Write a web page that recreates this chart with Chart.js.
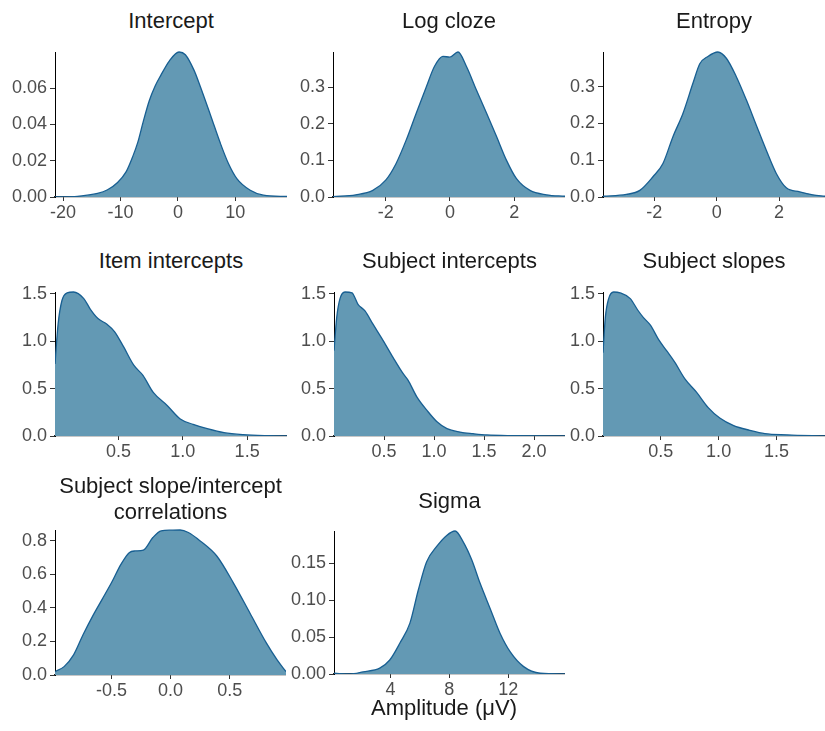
<!DOCTYPE html>
<html lang="en">
<head>
<meta charset="UTF-8">
<title>Posterior densities</title>
<script src="https://cdn.jsdelivr.net/npm/chart.js@4.4.1/dist/chart.umd.min.js"></script>
<style>
  body { margin: 0; background: #fff; overflow: hidden; }
  #figure { position: relative; width: 825px; height: 731px; font-family: 'Liberation Sans', Arial, sans-serif; }
  #figure canvas { position: absolute; }
  .title { position: absolute; text-align: center; font-size: 22px; line-height: 26px; color: #1a1a1a; white-space: nowrap; }
</style>
</head>
<body>
<div id="figure"></div>
<script>
// density curves (x = parameter value, y = density)
const interceptX = [-21.4, -17.5, -14.0, -12.25, -10.5, -9.0, -7.9, -7.0, -6.0, -5.0, -4.0, -3.0, -1.5, 0.2, 1.3, 2.8, 3.9, 5.7, 7.4, 8.8, 10.3, 12.6, 14.9, 19.0];
const interceptY = [0, 0.0004, 0.002, 0.004, 0.008, 0.014, 0.022, 0.030, 0.042, 0.053, 0.061, 0.067, 0.075, 0.080, 0.0785, 0.070, 0.061, 0.045, 0.0296, 0.0185, 0.010, 0.0037, 0.001, 0.0003];

const clozeX = [-3.64, -2.93, -2.4, -2.0, -1.68, -1.36, -1.05, -0.74, -0.48, -0.22, 0.0, 0.25, 0.51, 0.82, 1.14, 1.45, 1.76, 2.07, 2.49, 3.0, 3.58];
const clozeY = [0.001, 0.006, 0.018, 0.046, 0.091, 0.156, 0.229, 0.30, 0.357, 0.384, 0.382, 0.396, 0.357, 0.293, 0.229, 0.165, 0.10, 0.050, 0.018, 0.006, 0.002];

const entropyX = [-3.64, -2.89, -2.46, -2.04, -1.72, -1.40, -1.08, -0.76, -0.54, -0.28, 0.04, 0.31, 0.63, 0.95, 1.27, 1.59, 1.91, 2.23, 2.66, 3.08, 3.47];
const entropyY = [0.002, 0.007, 0.018, 0.055, 0.091, 0.164, 0.227, 0.309, 0.362, 0.382, 0.394, 0.377, 0.327, 0.264, 0.195, 0.127, 0.064, 0.025, 0.014, 0.006, 0.002];

const itemX = [0.006, 0.03, 0.06, 0.10, 0.15, 0.23, 0.28, 0.34, 0.41, 0.47, 0.54, 0.62, 0.69, 0.77, 0.88, 0.98, 1.08, 1.19, 1.32, 1.47, 1.66, 1.81];
const itemY = [0.76, 1.18, 1.43, 1.51, 1.52, 1.45, 1.34, 1.24, 1.18, 1.10, 0.94, 0.745, 0.64, 0.46, 0.32, 0.18, 0.123, 0.077, 0.035, 0.014, 0.004, 0.001];

const subjInterceptX = [0.0, 0.027, 0.06, 0.11, 0.18, 0.24, 0.31, 0.39, 0.49, 0.59, 0.69, 0.74, 0.83, 0.93, 1.03, 1.13, 1.26, 1.39, 1.53, 1.79, 2.31];
const subjInterceptY = [0.90, 1.25, 1.45, 1.52, 1.51, 1.39, 1.32, 1.18, 1.01, 0.83, 0.66, 0.59, 0.41, 0.27, 0.15, 0.077, 0.042, 0.025, 0.011, 0.004, 0.0];

const subjSlopeX = [0.0, 0.02, 0.049, 0.092, 0.149, 0.236, 0.30, 0.35, 0.41, 0.48, 0.55, 0.62, 0.71, 0.81, 0.91, 1.01, 1.13, 1.27, 1.40, 1.59, 1.92];
const subjSlopeY = [0.88, 1.25, 1.45, 1.52, 1.51, 1.45, 1.33, 1.25, 1.17, 1.02, 0.90, 0.78, 0.60, 0.46, 0.30, 0.19, 0.11, 0.06, 0.025, 0.012, 0.0];

const corrX = [-0.977, -0.9, -0.82, -0.74, -0.66, -0.58, -0.5, -0.42, -0.35, -0.3, -0.23, -0.15, -0.08, 0.0, 0.08, 0.15, 0.25, 0.39, 0.53, 0.67, 0.81, 0.9, 0.975];
const corrY = [0.02, 0.05, 0.12, 0.24, 0.35, 0.45, 0.55, 0.66, 0.73, 0.74, 0.745, 0.82, 0.86, 0.864, 0.865, 0.85, 0.80, 0.71, 0.55, 0.37, 0.19, 0.09, 0.02];

const sigmaX = [0.16, 1.23, 2.14, 3.27, 3.95, 4.64, 5.32, 5.89, 6.45, 7.14, 7.82, 8.39, 8.95, 9.52, 10.09, 10.77, 11.45, 12.14, 13.05, 14.18, 15.86];
const sigmaY = [0.001, 0.0, 0.003, 0.008, 0.019, 0.042, 0.069, 0.114, 0.152, 0.173, 0.188, 0.194, 0.179, 0.155, 0.123, 0.089, 0.055, 0.030, 0.010, 0.001, 0.0];

// tick values
const interceptXTicks = [-20, -10, 0, 10];
const interceptYTicks = [0, 0.02, 0.04, 0.06];
const coefXTicks = [-2, 0, 2];
const coefYTicks = [0, 0.1, 0.2, 0.3];
const sdXTicks = [0.5, 1.0, 1.5];
const subjInterceptXTicks = [0.5, 1.0, 1.5, 2.0];
const sdYTicks = [0, 0.5, 1.0, 1.5];
const corrXTicks = [-0.5, 0, 0.5];
const corrYTicks = [0, 0.2, 0.4, 0.6, 0.8];
const sigmaXTicks = [4, 8, 12];
const sigmaYTicks = [0, 0.05, 0.10, 0.15];

const xLabel = 'Amplitude (\u03BCV)';

const FILL = '#6399b4';
const LINE = '#185f92';
const FONT = "'Liberation Sans', Arial, sans-serif";
const YW = 50, PT = 14, XH = 30;

// box = [left, top, right, bottom] of each plot area; titleTop = top of the title block
const panels = [
  {title: 'Intercept', x: interceptX, y: interceptY, xt: interceptXTicks, yt: interceptYTicks, xd: 0, yd: 2, box: [55, 52, 287, 197], titleTop: 8},
  {title: 'Log cloze', x: clozeX, y: clozeY, xt: coefXTicks, yt: coefYTicks, xd: 0, yd: 1, box: [333, 52, 565, 197], titleTop: 8},
  {title: 'Entropy', x: entropyX, y: entropyY, xt: coefXTicks, yt: coefYTicks, xd: 0, yd: 1, box: [603, 52, 825, 197], titleTop: 8},
  {title: 'Item intercepts', x: itemX, y: itemY, xt: sdXTicks, yt: sdYTicks, xd: 1, yd: 1, box: [55, 292, 287, 436], titleTop: 248},
  {title: 'Subject intercepts', x: subjInterceptX, y: subjInterceptY, xt: subjInterceptXTicks, yt: sdYTicks, xd: 1, yd: 1, box: [334, 292, 565, 436], titleTop: 248},
  {title: 'Subject slopes', x: subjSlopeX, y: subjSlopeY, xt: sdXTicks, yt: sdYTicks, xd: 1, yd: 1, box: [603, 292, 825, 436], titleTop: 248},
  {title: 'Subject slope/intercept<br>correlations', x: corrX, y: corrY, xt: corrXTicks, yt: corrYTicks, xd: 1, yd: 1, box: [55, 530, 286, 675], titleTop: 473},
  {title: 'Sigma', x: sigmaX, y: sigmaY, xt: sigmaXTicks, yt: sigmaYTicks, xd: 0, yd: 2, box: [334, 531, 565, 674], titleTop: 488}
];

const fig = document.getElementById('figure');

function addText(html, left, top, width) {
  const d = document.createElement('div');
  d.className = 'title';
  d.innerHTML = html;
  d.style.left = left + 'px';
  d.style.top = top + 'px';
  d.style.width = width + 'px';
  fig.appendChild(d);
}

function drawPanel(p) {
  const [l, t, r, b] = p.box;
  const w = r - l + YW, h = b - t + PT + XH;
  const canvas = document.createElement('canvas');
  canvas.width = w;
  canvas.height = h;
  canvas.style.left = (l - YW) + 'px';
  canvas.style.top = (t - PT) + 'px';
  canvas.style.width = w + 'px';
  canvas.style.height = h + 'px';
  fig.appendChild(canvas);

  addText(p.title, l, p.titleTop, r - l);

  const tickFont = {size: 18, family: FONT};
  new Chart(canvas, {
    type: 'line',
    data: {
      datasets: [{
        data: p.x.map((v, i) => ({x: v, y: p.y[i]})),
        fill: 'origin',
        backgroundColor: FILL,
        borderColor: LINE,
        borderWidth: 1.3,
        pointRadius: 0,
        cubicInterpolationMode: 'monotone',
        clip: {left: 0, top: 2, right: 0, bottom: 0}
      }]
    },
    options: {
      responsive: false,
      animation: false,
      events: [],
      layout: {padding: {top: PT, right: 0, bottom: 0, left: 0}},
      plugins: {legend: {display: false}, tooltip: {enabled: false}},
      scales: {
        x: {
          type: 'linear',
          z: 1,
          min: p.x[0],
          max: p.x[p.x.length - 1],
          afterFit: s => { s.height = XH; },
          afterBuildTicks: s => { s.ticks = p.xt.map(v => ({value: v})); },
          ticks: {
            callback: v => v.toFixed(p.xd),
            color: '#4d4d4d',
            font: tickFont,
            padding: 1,
            maxRotation: 0,
            autoSkip: false
          },
          grid: {drawOnChartArea: false, tickLength: 4, color: '#333', lineWidth: 1},
          border: {color: '#222', width: 1.2}
        },
        y: {
          type: 'linear',
          z: 1,
          min: 0,
          max: Math.max(...p.y),
          afterFit: s => { s.width = YW; },
          afterBuildTicks: s => { s.ticks = p.yt.map(v => ({value: v})); },
          ticks: {
            callback: v => v.toFixed(p.yd),
            color: '#4d4d4d',
            font: tickFont,
            padding: 3,
            autoSkip: false
          },
          grid: {drawOnChartArea: false, tickLength: 5, color: '#333', lineWidth: 1},
          border: {color: '#000', width: 1}
        }
      }
    }
  });
}

panels.forEach(drawPanel);
addText(xLabel, 294, 695, 300);
</script>
</body>
</html>
